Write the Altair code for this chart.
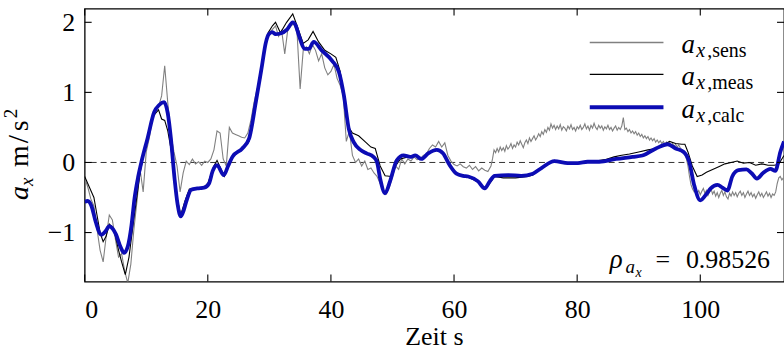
import altair as alt
import pandas as pd

# ---------------- data ----------------
# a_x,sens : every 0.5 s from t = 0 to 65.5 s
sens_y_a = [
    -0.22, -0.35, -0.52, -0.62, -0.95, -1.25, -1.42, -1.05, -0.75, -0.82,
    -1.10, -1.35, -1.30, -1.55, -1.72, -1.45, -0.95, -0.55, -0.10, -0.42,
    0.15, 0.35, 0.62, 0.78, 0.80, 0.95, 1.38, 0.85, 0.40, 0.15,
    -0.05, -0.42, -0.15, 0.02, -0.03, 0.05, -0.02, 0.01, -0.04, 0.02,
    0.00, 0.05, 0.18, 0.45, 0.42, 0.05, -0.05, 0.50, 0.42, 0.40,
    0.38, 0.36, 0.35, 0.42, 0.60, 0.85, 1.05, 1.15, 1.45, 1.75,
    1.85, 1.90, 1.95, 1.80, 1.88, 1.55, 1.90, 1.95, 1.98, 1.85,
    1.05, 1.60, 1.65, 1.55, 1.68, 1.60, 1.45, 1.55, 1.35, 1.25,
    1.30, 1.40, 1.20, 1.10, 0.95, 0.30, 0.45, 0.10, 0.00, 0.05,
    -0.05, 0.02, -0.10, -0.08, -0.15, -0.20, -0.30, -0.40, -0.45, -0.35,
    -0.20, -0.05, -0.10, 0.05, -0.02, 0.05, 0.02, 0.08, 0.04, 0.05,
    0.10, 0.12, 0.20, 0.25, 0.22, 0.30, 0.22, 0.28, 0.10, 0.02,
    -0.03, -0.05, -0.02, -0.06, -0.08, -0.04, -0.10, -0.06, -0.12, -0.08,
    -0.11, -0.13,
]
# a_x,sens : every 0.25 s from t = 66 s to the right edge
sens_y_b = [
    -0.05, 0.05, 0.18, 0.14, 0.20, 0.15, 0.22, 0.17, 0.21, 0.16,
    0.24, 0.19, 0.22, 0.27, 0.20, 0.25, 0.22, 0.29, 0.25, 0.31,
    0.26, 0.21, 0.28, 0.32, 0.27, 0.35, 0.30, 0.34, 0.38, 0.32,
    0.36, 0.41, 0.37, 0.44, 0.40, 0.47, 0.43, 0.50, 0.46, 0.55,
    0.49, 0.53, 0.47, 0.52, 0.48, 0.54, 0.46, 0.51, 0.49, 0.45,
    0.52, 0.48, 0.54, 0.47, 0.50, 0.45, 0.51, 0.48, 0.53, 0.47,
    0.50, 0.55, 0.48, 0.52, 0.46, 0.53, 0.49, 0.56, 0.50, 0.47,
    0.53, 0.49, 0.52, 0.46, 0.51, 0.48, 0.53, 0.47, 0.50, 0.45,
    0.49, 0.52, 0.46, 0.50, 0.47, 0.52, 0.64, 0.47, 0.49, 0.44,
    0.47, 0.42, 0.45, 0.41, 0.44, 0.39, 0.42, 0.37, 0.40, 0.35,
    0.38, 0.34, 0.37, 0.32, 0.35, 0.31, 0.34, 0.29, 0.32, 0.28,
    0.31, 0.27, 0.30, 0.26, 0.29, 0.25, 0.28, 0.24, 0.27, 0.23,
    0.26, 0.22, 0.25, 0.21, 0.18, 0.16, 0.12, 0.05, -0.05, -0.20,
    -0.32, -0.38, -0.42, -0.38, -0.44, -0.40, -0.46, -0.41, -0.37, -0.44,
    -0.40, -0.47, -0.42, -0.38, -0.45, -0.41, -0.48, -0.43, -0.50, -0.44,
    -0.40, -0.47, -0.42, -0.49, -0.52, -0.44, -0.48, -0.42, -0.47, -0.43,
    -0.49, -0.44, -0.41, -0.47, -0.43, -0.50, -0.45, -0.41, -0.47, -0.43,
    -0.49, -0.45, -0.51, -0.46, -0.42, -0.48, -0.44, -0.50, -0.46, -0.42,
    -0.48, -0.44, -0.50, -0.45, -0.47, -0.42, -0.30, -0.22, -0.20, -0.25,
    -0.22,
]
sens_t = [i * 0.5 for i in range(len(sens_y_a))] + \
         [66 + i * 0.25 for i in range(len(sens_y_b))]
sens_y = sens_y_a + sens_y_b

meas_t = [
    0, 0.5, 1, 1.5, 2, 2.5, 3, 3.5, 4, 4.5, 5, 5.5, 6, 6.6, 7.2, 8, 9, 10, 11, 12,
    12.5, 13, 13.5, 14, 14.5, 15, 15.6, 16.3, 17, 18, 19, 20, 21, 21.5, 22.7, 24,
    25.5, 26.7, 27.8, 28.8, 29.8, 30.5, 31, 31.8, 32.8, 33.8, 34.5, 35.5, 36.3,
    37.1, 38, 39, 40, 40.8, 41.5, 42.2, 42.9, 43.5, 44.5, 45.5, 46.5, 47.2, 48,
    48.8, 49.8, 50.5, 51.3, 52.5, 53.7, 54.7, 55.8, 57.2, 58.2, 59.3, 60.4, 62,
    64, 65, 65.8, 66.6, 68, 70, 72, 72.8, 74.2, 76.3, 78.5, 80, 81.5, 83, 84.5,
    86, 87, 88.5, 90, 91.5, 92.8, 94, 95, 96, 97, 97.5, 98, 98.7, 99.5, 100.3,
    101, 102, 103, 104, 105, 106, 107, 108, 109, 110, 111, 112, 112.7, 113.6,
]
meas_y = [
    -0.20, -0.30, -0.40, -0.50, -0.75, -1.00, -1.13, -1.05, -0.88, -0.92, -1.05,
    -1.25, -1.42, -1.60, -1.35, -0.80, -0.15, 0.30, 0.65, 0.75, 0.62, 0.60, 0.45,
    0.20, -0.10, -0.50, -0.75, -0.55, -0.38, -0.38, -0.38, -0.30, -0.05, 0.03,
    -0.20, 0.08, 0.18, 0.30, 0.85, 1.40, 1.85, 1.95, 2.00, 1.85, 2.00, 2.12,
    1.95, 1.70, 1.75, 1.87, 1.72, 1.60, 1.55, 1.50, 1.30, 0.90, 0.50, 0.42,
    0.38, 0.30, 0.22, 0.20, -0.05, -0.19, -0.20, -0.05, 0.05, 0.08, 0.10, 0.05,
    0.13, 0.18, 0.13, -0.04, -0.17, -0.20, -0.28, -0.38, -0.30, -0.20, -0.22,
    -0.22, -0.20, -0.18, -0.07, 0.03, -0.02, -0.02, 0.00, 0.02, 0.04, 0.08,
    0.10, 0.12, 0.15, 0.18, 0.20, 0.25, 0.30, 0.27, 0.26, 0.26, 0.15, -0.05,
    -0.20, -0.18, -0.14, -0.10, -0.06, -0.02, 0.00, 0.02, -0.01, 0.00, -0.04,
    -0.02, -0.04, -0.04, -0.03, 0.10,
]

calc_t = [
    0, 0.5, 1.1, 1.8, 2.7, 3.4, 4.0, 4.6, 5.1, 5.8, 6.4, 7.0, 7.6, 8.1, 8.7, 9.2,
    10.2, 11.3, 12.1, 12.9, 13.5, 14.0, 14.6, 15.1, 15.6, 16.1, 16.5, 17.3, 18.3,
    19.4, 20.2, 20.8, 21.5, 22.6, 23.3, 24.0, 25.6, 26.7, 27.8, 28.8, 29.4, 29.9,
    30.5, 31.0, 31.8, 32.9, 33.8, 34.3, 34.8, 35.8, 36.4, 37.2, 38.5, 40.2, 41.3,
    42.1, 42.9, 43.7, 44.8, 45.8, 46.9, 47.5, 48.0, 48.8, 49.6, 50.7, 51.8, 52.9,
    53.7, 54.7, 55.8, 57.2, 58.2, 59.3, 60.4, 61.5, 62.3, 63.9, 65.0, 65.8, 66.6,
    68.8, 70.9, 72.8, 74.2, 76.3, 78.5, 80.1, 81.7, 83.6, 86.3, 89.0, 90.6, 92.8,
    94.7, 96.0, 97.3, 98.2, 99.0, 100.0, 101.0, 101.7, 102.8, 103.6, 104.4,
    105.2, 106.2, 107.5, 108.3, 109.2, 110.2, 111.4, 112.2, 113.0, 113.6,
]
calc_y = [
    -0.56, -0.55, -0.62, -0.85, -1.03, -0.98, -0.91, -0.95, -1.03, -1.20, -1.29,
    -1.20, -0.90, -0.51, -0.20, 0.00, 0.34, 0.72, 0.82, 0.86, 0.70, 0.35, -0.23,
    -0.60, -0.77, -0.68, -0.56, -0.39, -0.37, -0.36, -0.30, -0.12, -0.04, -0.18,
    -0.05, 0.08, 0.20, 0.34, 0.86, 1.38, 1.70, 1.83, 1.86, 1.83, 1.84, 1.90,
    2.00, 1.95, 1.81, 1.62, 1.62, 1.72, 1.60, 1.45, 1.29, 0.96, 0.48, 0.29,
    0.18, 0.13, 0.08, 0.00, -0.23, -0.44, -0.27, 0.03, 0.10, 0.08, 0.10, 0.05,
    0.13, 0.18, 0.13, -0.04, -0.16, -0.19, -0.20, -0.27, -0.37, -0.27, -0.19,
    -0.18, -0.19, -0.16, -0.08, 0.02, -0.01, -0.01, 0.01, 0.01, 0.05, 0.08,
    0.10, 0.20, 0.26, 0.20, 0.15, 0.01, -0.32, -0.54, -0.45, -0.37, -0.32,
    -0.36, -0.40, -0.20, -0.11, -0.10, -0.15, -0.23, -0.15, -0.09, -0.12, 0.15,
    0.30,
]

x_ticks = [0, 20, 40, 60, 80, 100]
y_ticks = [-1, 0, 1, 2]
x_domain = [0, 113.6]
y_domain = [-1.70, 2.195]
rho_text = "0.98526"
legend_names = [",sens", ",meas", ",calc"]

# ---------------- styling ----------------
SERIF = "'Liberation Serif', 'Times New Roman', serif"
W, H = 702, 274
GRAY, BLACK, BLUE = "#808080", "#000000", "#0c0cb4"

xs = alt.Scale(domain=x_domain, nice=False, zero=False)
ys = alt.Scale(domain=y_domain, nice=False, zero=False)

x_axis = alt.Axis(values=x_ticks, ticks=False, domain=False, grid=False,
                  labelFont=SERIF, labelFontSize=26, labelPadding=15,
                  labelColor="black", title=None, format="d")
y_axis = alt.Axis(values=y_ticks, ticks=False, domain=False, grid=False,
                  labelFont=SERIF, labelFontSize=26, labelPadding=10,
                  labelColor="black", title=None, format="d")


def X(field):
    return alt.X(field, scale=xs, axis=x_axis)


def Y(field):
    return alt.Y(field, scale=ys, axis=y_axis)


sens_df = pd.DataFrame({"t": sens_t, "v": sens_y})
meas_df = pd.DataFrame({"t": meas_t, "v": meas_y})
calc_df = pd.DataFrame({"t": calc_t, "v": calc_y})

sens = alt.Chart(sens_df).mark_line(color=GRAY, strokeWidth=1.1, clip=True).encode(
    x=X("t:Q"), y=Y("v:Q"))
meas = alt.Chart(meas_df).mark_line(color=BLACK, strokeWidth=1.1, clip=True).encode(
    x=X("t:Q"), y=Y("v:Q"))
calc = alt.Chart(calc_df).mark_line(color=BLUE, strokeWidth=3.8, clip=True,
                                    interpolate="monotone").encode(
    x=X("t:Q"), y=Y("v:Q"))

zero = alt.Chart(pd.DataFrame({"z": [0]})).mark_rule(
    color="#333333", strokeWidth=1, strokeDash=[6, 4]).encode(y=Y("z:Q"))

# inward ticks on all four sides
xt = pd.DataFrame({"x": x_ticks})
yt = pd.DataFrame({"y": y_ticks})
tick_style = dict(color="black", strokeWidth=1.1)
tb = alt.Chart(xt).mark_rule(**tick_style).encode(
    x=X("x:Q"), y=alt.value(H), y2=alt.value(H - 7))
tt = alt.Chart(xt).mark_rule(**tick_style).encode(
    x=X("x:Q"), y=alt.value(0), y2=alt.value(7))
tl = alt.Chart(yt).mark_rule(**tick_style).encode(
    y=Y("y:Q"), x=alt.value(0), x2=alt.value(7))
tr = alt.Chart(yt).mark_rule(**tick_style).encode(
    y=Y("y:Q"), x=alt.value(W), x2=alt.value(W - 7))

one = alt.Data(values=[{"k": 0}])


def txt(s, x, y, size=26, italic=False, align="left", angle=0, color="black"):
    kw = dict(text=s, font=SERIF, fontSize=size, align=align,
              baseline="alphabetic", color=color)
    if italic:
        kw["fontStyle"] = "italic"
    if angle:
        kw["angle"] = angle
    return alt.Chart(one).mark_text(**kw).encode(x=alt.value(x), y=alt.value(y))


# legend
leg_cols = [GRAY, BLACK, BLUE]
leg_w = [1.6, 1.1, 4]
leg_y = [34, 66, 99]
legend_layers = []
for i in range(3):
    legend_layers.append(
        alt.Chart(one).mark_rule(color=leg_cols[i], strokeWidth=leg_w[i]).encode(
            x=alt.value(507), x2=alt.value(581), y=alt.value(leg_y[i])))
    legend_layers.append(txt("a", 599, leg_y[i] + 11, 27, italic=True))
    legend_layers.append(txt("x", 614, leg_y[i] + 15, 20, italic=True))
    legend_layers.append(txt(legend_names[i], 625, leg_y[i] + 15, 20))

# correlation annotation
rho_layers = [
    txt("ρ", 527, 260, 27, italic=True),
    txt("a", 543, 265, 19, italic=True),
    txt("x", 553, 269, 14, italic=True),
    txt("=", 573, 260, 26),
    txt(rho_text, 688, 260, 26, align="right"),
]

# axis titles (y title drawn bottom-to-top, baseline toward the plot)
title_layers = [
    txt("Zeit s", 351, 338, 26, align="center"),
    txt("a", -57, 192, 28, italic=True, angle=270),
    txt("x", -52, 178, 19, italic=True, angle=270),
    txt("m", -57, 159, 28, angle=270),
    txt("/", -57, 135, 30, angle=270),
    txt("s", -57, 123, 28, angle=270),
    txt("2", -68, 110, 19, angle=270),
]

chart = alt.layer(
    zero, sens, meas, calc, tb, tt, tl, tr,
    *legend_layers, *rho_layers, *title_layers,
).properties(
    width=W, height=H,
    background="white",
    autosize=alt.AutoSizeParams(type="none"),
    padding={"left": 85, "top": 8, "right": 0, "bottom": 70},
).configure_view(
    stroke="black", strokeWidth=1.3
)

chart.save("out.html", embed_options={"renderer": "svg", "actions": False})
